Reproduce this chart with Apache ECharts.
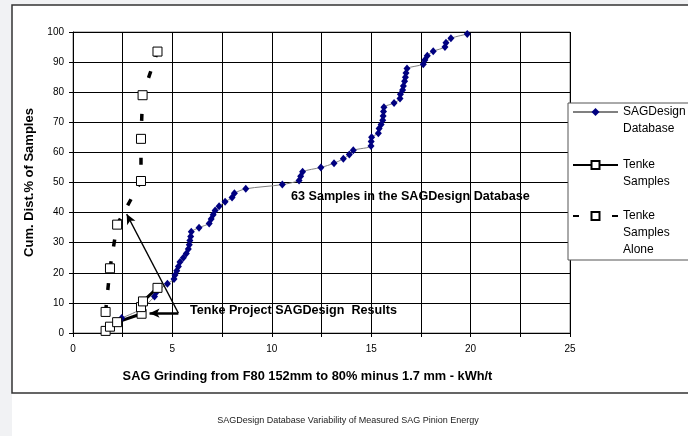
<!DOCTYPE html>
<html>
<head>
<meta charset="utf-8">
<script src="https://cdn.jsdelivr.net/npm/echarts@6/dist/echarts.min.js"></script>
<style>
  html, body { margin: 0; padding: 0; background: #f1f2f4; }
  #chart { width: 688px; height: 436px; }
</style>
</head>
<body>
<div id="chart"></div>
<script>
// SAGDesign database samples (kWh/t vs cumulative %)
const dbX = [2.45, 3.4, 4.1, 4.2,
  4.75, 5.08, 5.13, 5.22, 5.3, 5.38, 5.55, 5.7, 5.8, 5.85, 5.88, 5.92, 5.95, 6.34, 6.85, 6.95, 7.05, 7.15, 7.35, 7.65, 8.0, 8.12, 8.69,
  10.53,
  11.37, 11.45, 11.55, 12.47, 13.13, 13.6, 13.9, 14.1,
  14.99, 15.0, 15.02,
  15.36, 15.4, 15.5, 15.58, 15.6, 15.62, 15.64, 16.15, 16.45, 16.47, 16.58, 16.62, 16.68, 16.72, 16.75, 16.8,
  17.62, 17.7, 17.82, 18.12, 18.71, 18.76, 19.01, 19.83]
const dbY = [5.0, 7.9, 12.1, 13.6,
  16.4, 17.9, 19.3, 20.7, 22.1, 23.6, 25.0, 26.4, 27.9, 29.3, 30.7, 32.1, 33.6, 35.0, 36.4, 37.9, 39.3, 40.7, 42.1, 43.6, 45.0, 46.4, 47.9,
  49.3,
  50.7, 52.1, 53.6, 55.0, 56.4, 57.9, 59.3, 60.7,
  62.1, 63.6, 65.0,
  66.4, 67.9, 69.3, 70.7, 72.1, 73.6, 75.0, 76.4, 77.9, 79.3, 80.7, 82.1, 83.6, 85.0, 86.4, 87.9,
  89.3, 90.7, 92.1, 93.6, 95.0, 96.4, 97.9, 99.3]

// Tenke samples placed in the combined list
const tenkeX = [1.64, 1.86, 2.22, 3.45, 3.42, 3.52, 4.25]
const tenkeY = [0.7, 2.1, 3.6, 6.4, 8.6, 10.5, 15.0]

// Tenke samples on their own
const aloneX = [1.64, 1.86, 2.22, 3.42, 3.42, 3.5, 4.25]
const aloneY = [7.0, 21.5, 36.0, 50.5, 64.5, 79.0, 93.5]

const seriesNames = ['SAGDesign\nDatabase', 'Tenke\nSamples', 'Tenke\nSamples\nAlone']

// arrow annotation (data coords)
const arrowFrom = [5.3, 6.6]
const arrowToAlone = [2.7, 39.5]
const arrowToTenke = [3.85, 6.6]

const font = 'Liberation Sans, Arial, sans-serif'

function pairs(xs, ys) {
  return xs.map((x, i) => [x, ys[i]])
}

// blank lines on top so the icon sits next to the first line of text
function legendLabel(name) {
  let n = name.split('\n').length
  return '\n'.repeat(n - 1) + name
}

const chart = echarts.init(document.getElementById('chart'))

chart.setOption({
  animation: false,
  backgroundColor: 'transparent',
  textStyle: { fontFamily: font },
  grid: {
    left: 73,
    right: 118,
    top: 32,
    bottom: 103,
    show: true,
    borderColor: '#808080',
    borderWidth: 1
  },
  legend: {
    orient: 'vertical',
    left: 572,
    top: 67.5,
    padding: 0,
    itemGap: -17,
    itemWidth: 45,
    itemHeight: 10,
    selectedMode: false,
    z: 10,
    formatter: legendLabel,
    textStyle: { fontFamily: font, fontSize: 12, color: '#000', lineHeight: 17 },
    data: [
      { name: seriesNames[0], textStyle: { padding: [19, 0, 19, 0], backgroundColor: 'rgba(0,0,0,0)' } },
      { name: seriesNames[1], textStyle: { backgroundColor: 'rgba(0,0,0,0)' } },
      { name: seriesNames[2], textStyle: { backgroundColor: 'rgba(0,0,0,0)' },
        lineStyle: { type: [6, 33] } }
    ]
  },
  xAxis: {
    type: 'value',
    min: 0,
    max: 25,
    interval: 2.5,
    name: 'SAG Grinding from F80 152mm to 80% minus 1.7 mm - kWh/t',
    nameLocation: 'middle',
    nameGap: 37,
    nameTextStyle: { fontFamily: font, fontSize: 12.8, fontWeight: 'bold', color: '#000', padding: [0, 28, 0, 0] },
    axisLine: { show: true, lineStyle: { color: '#000', width: 1 } },
    axisTick: { show: true, length: 4, lineStyle: { color: '#000' } },
    axisLabel: {
      color: '#000', fontSize: 10, margin: 11,
      formatter: v => (v % 5 === 0 ? String(v) : '')
    },
    splitLine: { show: true, lineStyle: { color: '#000', width: 1 } }
  },
  yAxis: {
    type: 'value',
    min: 0,
    max: 100,
    interval: 10,
    name: 'Cum. Dist.% of Samples',
    nameLocation: 'middle',
    nameGap: 35,
    nameTextStyle: { fontFamily: font, fontSize: 13, fontWeight: 'bold', color: '#000' },
    axisLine: { show: true, lineStyle: { color: '#000', width: 1 } },
    axisTick: { show: true, length: 4, lineStyle: { color: '#000' } },
    axisLabel: { color: '#000', fontSize: 10, margin: 9 },
    splitLine: { show: true, lineStyle: { color: '#000', width: 1 } }
  },
  series: [
    {
      name: seriesNames[0],
      type: 'line',
      data: pairs(dbX, dbY),
      smooth: 0.3,
      symbol: 'diamond',
      symbolSize: [7, 8],
      showAllSymbol: true,
      itemStyle: { color: '#000080' },
      lineStyle: { color: '#808080', width: 1 },
      emphasis: { disabled: true }
    },
    {
      name: seriesNames[1],
      type: 'line',
      data: pairs(tenkeX, tenkeY),
      symbol: 'rect',
      symbolSize: 9,
      itemStyle: { color: '#fff', borderColor: '#000', borderWidth: 1 },
      lineStyle: { color: '#000', width: 3 },
      emphasis: { disabled: true },
      markLine: {
        silent: true,
        symbol: ['none', 'arrow'],
        symbolSize: [7, 10],
        label: { show: false },
        lineStyle: { color: '#000', type: 'solid', width: 1.3 },
        data: [
          [{ coord: arrowFrom }, { coord: arrowToAlone }],
          [{ coord: arrowFrom, lineStyle: { width: 2.5 } }, { coord: arrowToTenke }]
        ]
      }
    },
    {
      name: seriesNames[2],
      type: 'line',
      data: pairs(aloneX, aloneY),
      symbol: 'rect',
      symbolSize: 9,
      itemStyle: { color: '#fff', borderColor: '#000', borderWidth: 1 },
      lineStyle: { color: '#000', width: 3.5, type: [7, 15] },
      emphasis: { disabled: true }
    }
  ],
  graphic: [
    { type: 'rect', z: -100, shape: { x: 12, y: 5, width: 676, height: 431 }, style: { fill: '#fff' } },
    { type: 'rect', z: -99, shape: { x: 12, y: 5, width: 690, height: 388 }, style: { fill: null, stroke: '#333', lineWidth: 1.5 } },
    { type: 'rect', z: 5, shape: { x: 568, y: 103, width: 130, height: 157 }, style: { fill: '#fff', stroke: '#555', lineWidth: 1 } },
    {
      type: 'text', z: 6, x: 291, y: 197,
      style: { text: '63 Samples in the SAGDesign Database', font: 'bold 12.6px ' + font, fill: '#000', verticalAlign: 'middle' }
    },
    {
      type: 'text', z: 6, x: 190, y: 311,
      style: { text: 'Tenke Project SAGDesign  Results', font: 'bold 12.6px ' + font, fill: '#000', verticalAlign: 'middle' }
    },
    {
      type: 'text', z: 6, x: 348, y: 421,
      style: { text: 'SAGDesign Database Variability of Measured SAG Pinion Energy', font: '9px ' + font, fill: '#222', align: 'center', verticalAlign: 'middle' }
    }
  ]
})
</script>
</body>
</html>
